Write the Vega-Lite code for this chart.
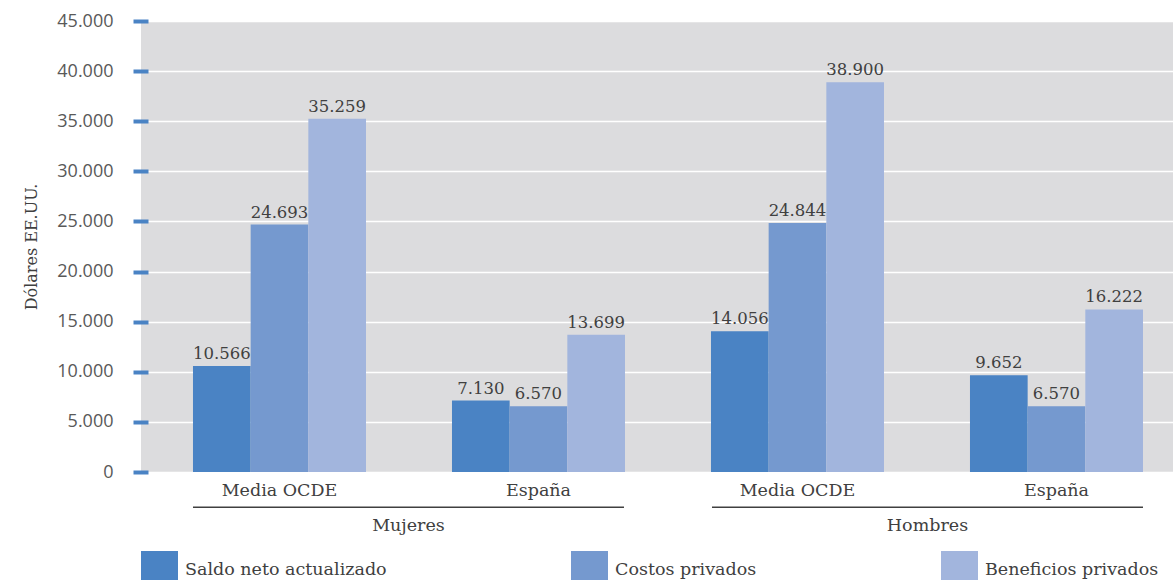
{
  "$schema": "https://vega.github.io/schema/vega-lite/v6.json",
  "width": 1032,
  "height": 451,
  "autosize": {"type": "none"},
  "padding": {"left": 141, "top": 21, "right": 0, "bottom": 108},
  "background": "#ffffff",
  "config": {
    "locale": {"number": {"decimal": ",", "thousands": ".", "grouping": [3], "currency": ["", " €"]}},
    "view": {"fill": "#dcdcde", "stroke": null},
    "font": "DejaVu Serif"
  },
  "datasets": {
    "barras": [
      {"genero": "Mujeres", "grupo": "Mujeres|Media OCDE", "serie": "Saldo neto actualizado", "valor": 10566},
      {"genero": "Mujeres", "grupo": "Mujeres|Media OCDE", "serie": "Costos privados", "valor": 24693},
      {"genero": "Mujeres", "grupo": "Mujeres|Media OCDE", "serie": "Beneficios privados", "valor": 35259},
      {"genero": "Mujeres", "grupo": "Mujeres|España", "serie": "Saldo neto actualizado", "valor": 7130},
      {"genero": "Mujeres", "grupo": "Mujeres|España", "serie": "Costos privados", "valor": 6570},
      {"genero": "Mujeres", "grupo": "Mujeres|España", "serie": "Beneficios privados", "valor": 13699},
      {"genero": "Hombres", "grupo": "Hombres|Media OCDE", "serie": "Saldo neto actualizado", "valor": 14056},
      {"genero": "Hombres", "grupo": "Hombres|Media OCDE", "serie": "Costos privados", "valor": 24844},
      {"genero": "Hombres", "grupo": "Hombres|Media OCDE", "serie": "Beneficios privados", "valor": 38900},
      {"genero": "Hombres", "grupo": "Hombres|España", "serie": "Saldo neto actualizado", "valor": 9652},
      {"genero": "Hombres", "grupo": "Hombres|España", "serie": "Costos privados", "valor": 6570},
      {"genero": "Hombres", "grupo": "Hombres|España", "serie": "Beneficios privados", "valor": 16222}
    ],
    "generos": [
      {"genero": "Mujeres"},
      {"genero": "Hombres"}
    ]
  },
  "layer": [
    {
      "data": {"name": "barras"},
      "encoding": {
        "x": {
          "field": "grupo",
          "type": "nominal",
          "sort": ["Mujeres|Media OCDE", "Mujeres|España", "Hombres|Media OCDE", "Hombres|España"],
          "scale": {"paddingInner": 0.332, "paddingOuter": 0.1583, "align": 0.634},
          "axis": {
            "title": null,
            "orient": "bottom",
            "domain": false,
            "ticks": false,
            "tickSize": 0,
            "grid": false,
            "labelAngle": 0,
            "labelExpr": "split(datum.label, '|')[1]",
            "labelFont": "DejaVu Serif",
            "labelFontSize": 17.5,
            "labelColor": "#404040",
            "labelPadding": 9
          }
        },
        "xOffset": {
          "field": "serie",
          "type": "nominal",
          "sort": ["Saldo neto actualizado", "Costos privados", "Beneficios privados"],
          "scale": {"paddingInner": 0, "paddingOuter": 0}
        },
        "y": {
          "field": "valor",
          "type": "quantitative",
          "scale": {"domain": [0, 45000], "nice": false},
          "axis": {
            "title": "Dólares EE.UU.",
            "titleFont": "DejaVu Serif",
            "titleFontSize": 16,
            "titleFontWeight": "normal",
            "titleColor": "#404040",
            "titlePadding": 17,
            "values": [0, 5000, 10000, 15000, 20000, 25000, 30000, 35000, 40000, 45000],
            "format": ",d",
            "offset": -7,
            "domain": false,
            "ticks": true,
            "tickColor": "#4a83c4",
            "tickWidth": 4,
            "tickSize": 15,
            "labelFont": "Open Sans",
            "labelFontSize": 18,
            "labelColor": "#595959",
            "labelPadding": 20,
            "grid": true,
            "gridColor": "#ffffff",
            "gridWidth": 1.5
          }
        }
      },
      "layer": [
        {
          "mark": {"type": "bar"},
          "encoding": {
            "color": {
              "field": "serie",
              "type": "nominal",
              "sort": ["Saldo neto actualizado", "Costos privados", "Beneficios privados"],
              "scale": {
                "domain": ["Saldo neto actualizado", "Costos privados", "Beneficios privados"],
                "range": ["#4a83c4", "#7599cf", "#a2b5dd"]
              },
              "legend": {
                "title": null,
                "orient": "none",
                "legendX": 0,
                "legendY": 530,
                "direction": "horizontal",
                "columns": 3,
                "gridAlign": "each",
                "columnPadding": 184,
                "padding": 0,
                "symbolType": "square",
                "symbolSize": 1369,
                "symbolStrokeWidth": 0,
                "symbolOpacity": 1,
                "labelFont": "DejaVu Serif",
                "labelFontSize": 17.5,
                "labelColor": "#404040",
                "labelOffset": 7,
                "labelLimit": 400
              }
            }
          }
        },
        {
          "mark": {"type": "text", "baseline": "alphabetic", "dy": -7, "font": "DejaVu Serif", "fontSize": 16.5, "color": "#404040"},
          "encoding": {
            "text": {"field": "valor", "type": "quantitative", "format": ",d"}
          }
        }
      ]
    },
    {
      "data": {"name": "generos"},
      "mark": {"type": "rect", "color": "#404040"},
      "encoding": {
        "x": {
          "field": "genero",
          "type": "nominal",
          "sort": ["Mujeres", "Hombres"],
          "scale": {"paddingInner": 0.16956, "paddingOuter": 0.079, "align": 0.634},
          "axis": {
            "title": null,
            "orient": "bottom",
            "offset": 35,
            "domain": false,
            "ticks": false,
            "tickSize": 0,
            "grid": false,
            "labelAngle": 0,
            "labelFont": "DejaVu Serif",
            "labelFontSize": 17.5,
            "labelColor": "#404040",
            "labelPadding": 9
          }
        },
        "y": {"value": 485.5},
        "y2": {"value": 487}
      }
    }
  ],
  "resolve": {"scale": {"x": "independent"}, "axis": {"x": "independent"}}
}
